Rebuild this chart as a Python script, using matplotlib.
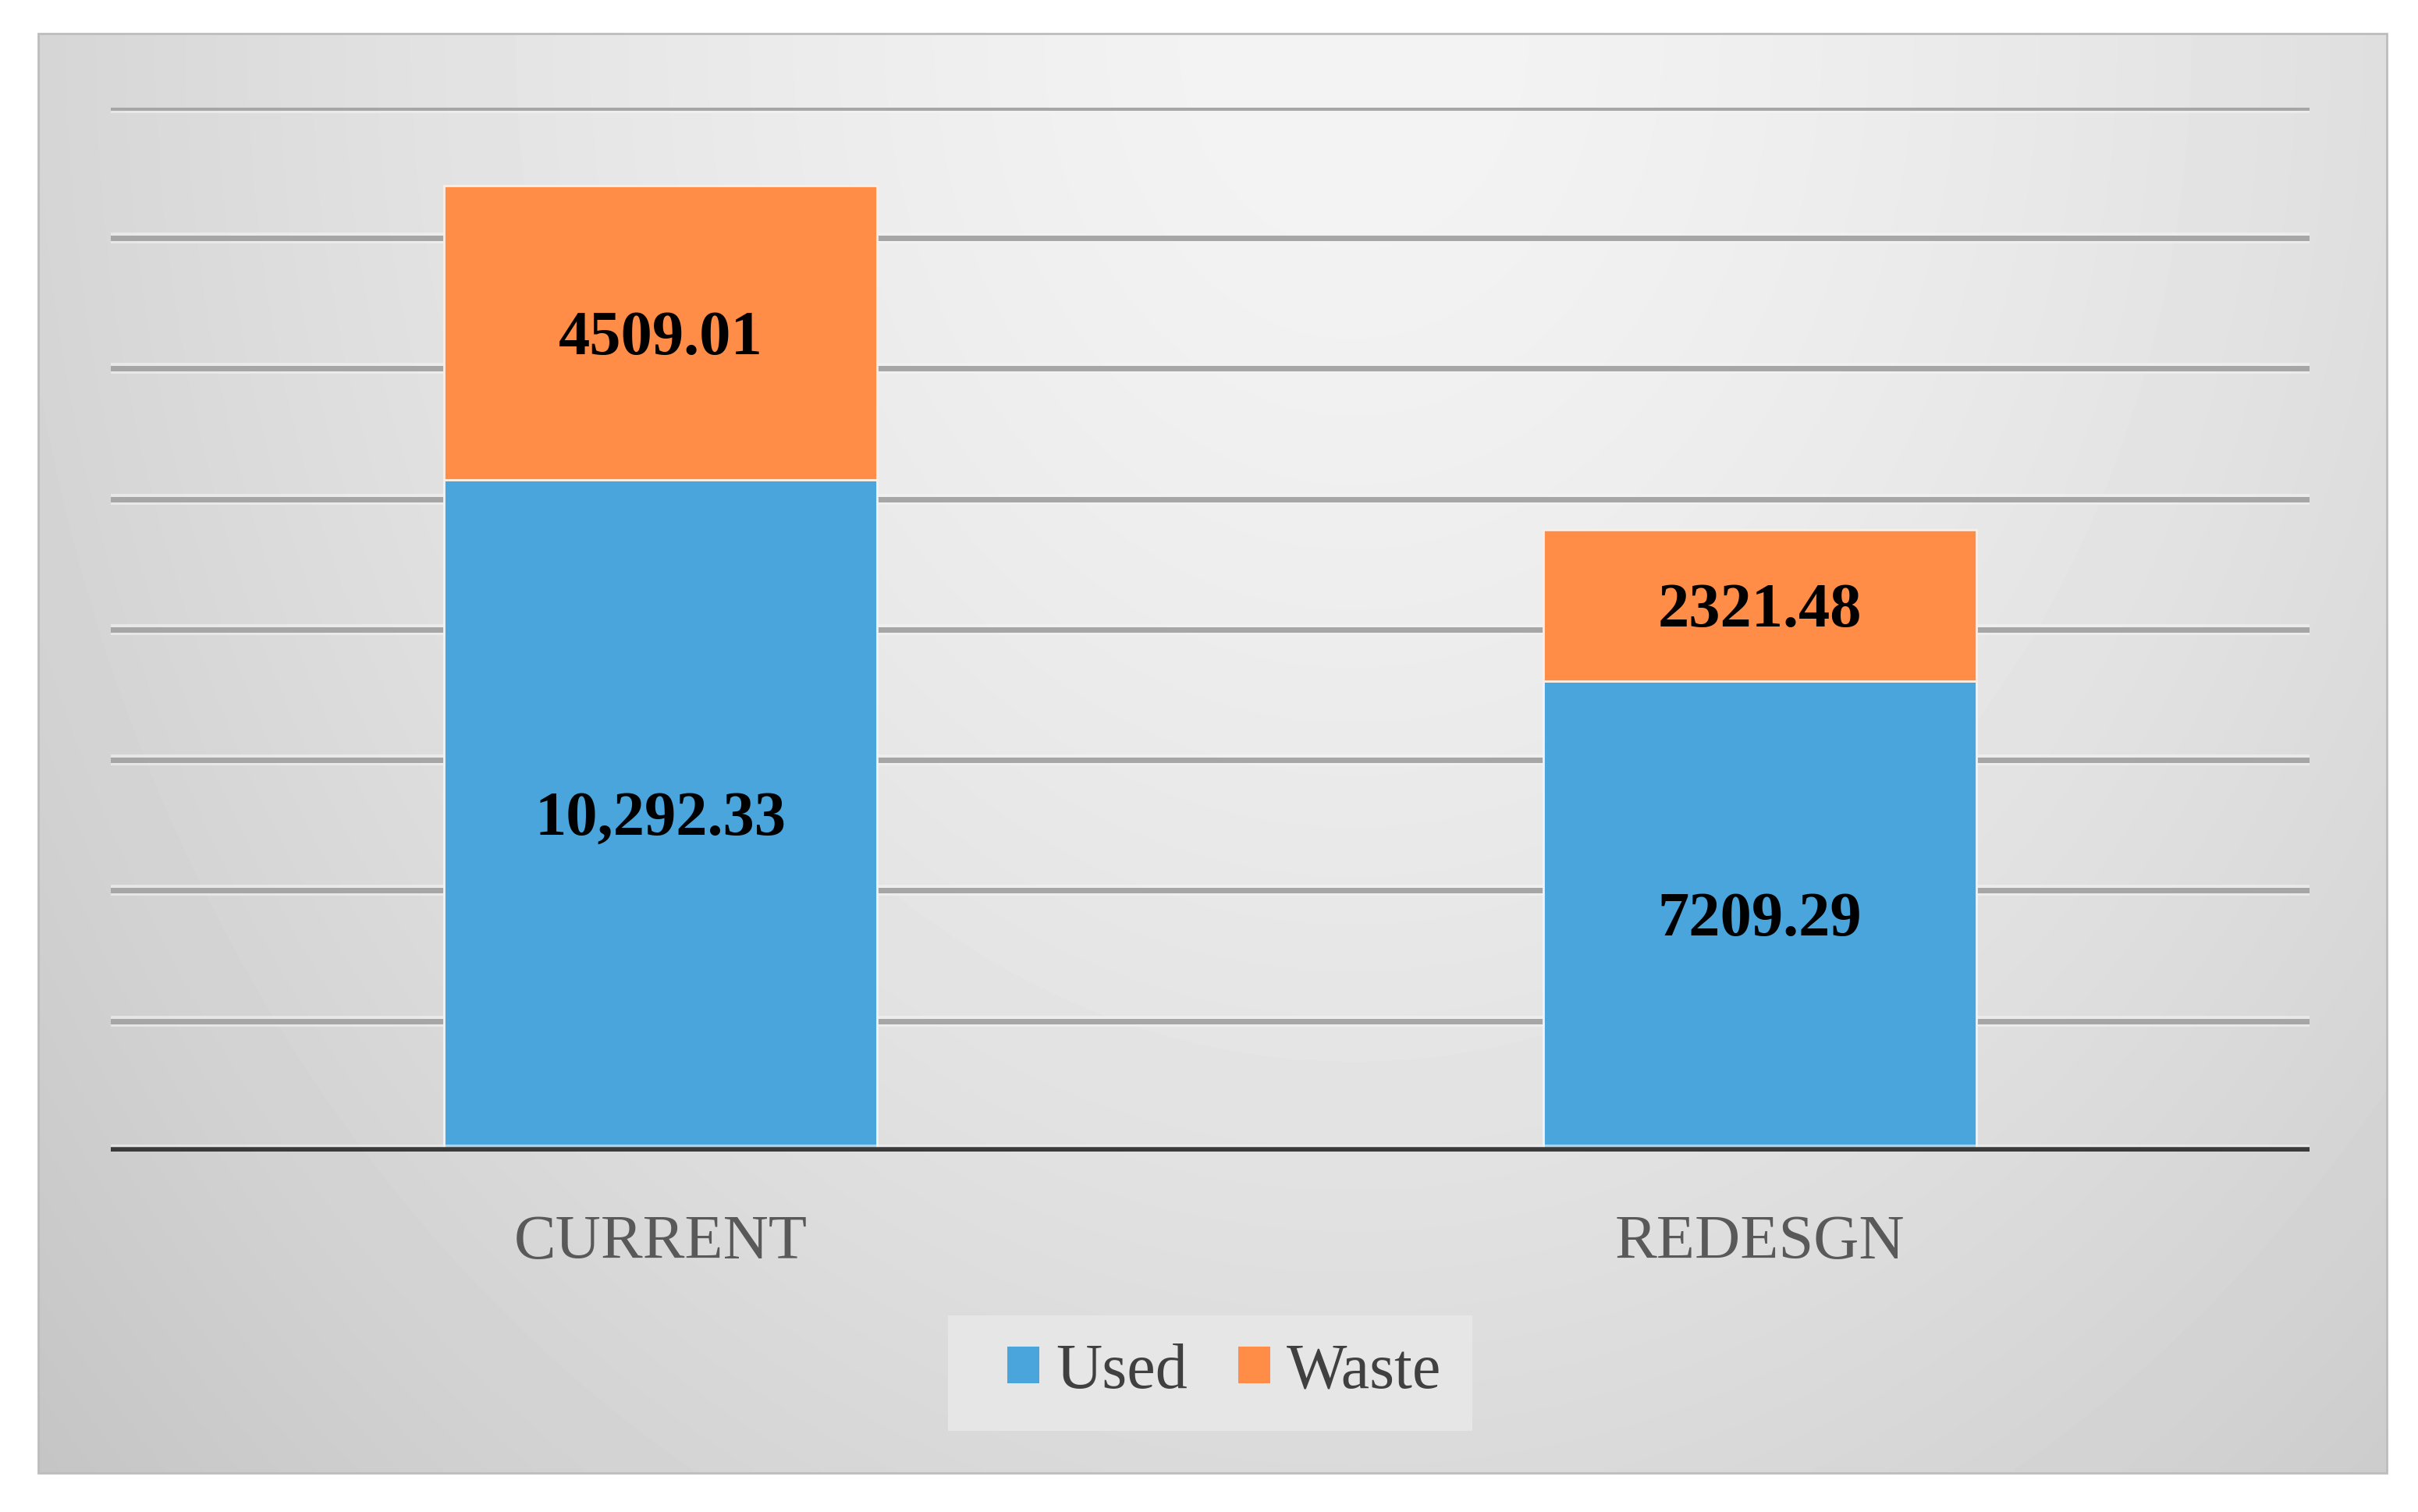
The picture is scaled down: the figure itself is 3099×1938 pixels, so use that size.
import numpy as np
import matplotlib
matplotlib.use("Agg")
import matplotlib.pyplot as plt
from matplotlib.patches import Rectangle, Patch

# data
categories = ["CURRENT", "REDESGN"]
used = [10292.33, 7209.29]
waste = [4509.01, 2321.48]
used_labels = ["10,292.33", "7209.29"]
waste_labels = ["4509.01", "2321.48"]
series_names = ["Used", "Waste"]

blue = "#4AA5DC"
orange = "#FF8D48"
serif = ["Liberation Serif", "DejaVu Serif"]

fig = plt.figure(figsize=(30.99, 19.38), dpi=100)
fig.patch.set_facecolor("white")

# gradient panel behind the chart
bg = fig.add_axes([0.0158, 0.0258, 0.9713, 0.952], zorder=0)
xx, yy = np.meshgrid(np.linspace(0, 1, 400), np.linspace(0, 1, 250))
d = np.sqrt(((xx - 0.56) / 0.5) ** 2 + yy ** 2)
shade = np.clip(0.955 - 0.1 * d ** 1.5, 0, 1)
bg.imshow(shade, cmap="gray", vmin=0, vmax=1, aspect="auto",
          extent=[0, 1, 1, 0], interpolation="bilinear")
bg.set_xlim(0, 1)
bg.set_ylim(1, 0)
bg.set_axis_off()
fig.patches.append(Rectangle((0.0158, 0.0258), 0.9713, 0.952, transform=fig.transFigure,
                             fill=False, edgecolor="#bdbdbd", linewidth=2, zorder=1))

ax = fig.add_axes([0.0458, 0.2384, 0.9094, 0.6904], zorder=2)
ax.patch.set_alpha(0)
x = np.arange(len(categories))
width = 0.394

# gridlines with a soft light halo
for yv in range(2000, 16001, 2000):
    ax.axhline(yv, color="#f4f4f4", linewidth=10, alpha=0.6, zorder=1)
    ax.axhline(yv, color="#a6a6a6", linewidth=5, zorder=1.1)
ax.axhline(0, color="#f2f2f2", linewidth=13, alpha=0.6, zorder=4)
ax.axhline(0, color="#3a3a3a", linewidth=9, zorder=4.1)

b1 = ax.bar(x, used, width, color=blue, edgecolor="#eef4f8", linewidth=2, zorder=3)
b2 = ax.bar(x, waste, width, bottom=used, color=orange, edgecolor="#fbeee4", linewidth=2, zorder=3)

for i in range(len(categories)):
    ax.text(x[i], used[i] / 2 - 60, used_labels[i], ha="center", va="center",
            fontsize=58, fontweight="bold", family=serif, color="black", zorder=5)
    ax.text(x[i], used[i] + waste[i] / 2 - 90, waste_labels[i], ha="center", va="center",
            fontsize=58, fontweight="bold", family=serif, color="black", zorder=5)

ax.set_xlim(-0.5, 1.5)
ax.set_ylim(0, 16000)
ax.set_yticks([])
ax.set_xticks(x)
ax.set_xticklabels(categories, fontsize=58, family=serif, color="#595959")
ax.tick_params(axis="x", length=0, pad=58)
for s in ax.spines.values():
    s.set_visible(False)

# legend box
fig.patches.append(Rectangle((0.392, 0.0537), 0.217, 0.0763, transform=fig.transFigure,
                             facecolor="#e6e6e6", edgecolor="none", zorder=1.5))
handles = [Patch(facecolor=blue, edgecolor="none"), Patch(facecolor=orange, edgecolor="none")]
leg = fig.legend(handles, series_names, loc="center", bbox_to_anchor=(0.5064, 0.0924),
                 ncol=2, frameon=False, prop={"family": serif, "size": 59},
                 handlelength=0.5, handleheight=0.5, handletextpad=0.25, columnspacing=0.8)
for t in leg.get_texts():
    t.set_color("#404040")

fig.savefig("out.png", dpi=100, facecolor="white")
